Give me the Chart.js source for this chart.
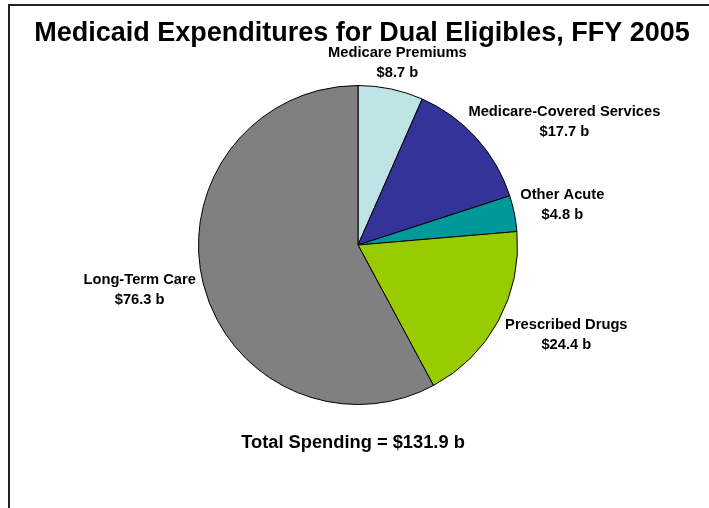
<!DOCTYPE html>
<html>
<head>
<meta charset="utf-8">
<script src="https://cdn.jsdelivr.net/npm/chart.js@4"></script>
<style>
  body { margin: 0; background: #fff; }
  #wrap { position: relative; width: 709px; height: 508px; }
  #frame { position: absolute; left: 8px; top: 4px; right: 0; bottom: 0;
           border-top: 2px solid #222; border-left: 2px solid #222; }
  canvas { position: absolute; left: 0; top: 0; }
</style>
</head>
<body>
<div id="wrap">
  <div id="frame"></div>
  <canvas id="pie" width="709" height="508"></canvas>
</div>
<script>
// values in billions of dollars
var categories = ['Medicare Premiums', 'Medicare-Covered Services', 'Other Acute', 'Prescribed Drugs', 'Long-Term Care']
var spending = [8.7, 17.7, 4.8, 24.4, 76.3]
var totalSpending = 131.9
var sliceColors = ['#bde3e4', '#333399', '#009999', '#99cc00', '#808080']

// where each label block sits, relative to pie center in units of radius
var labelSpots = [[0.247, -1.141], [1.294, -0.769], [1.281, -0.25], [1.306, 0.5625], [-1.369, 0.281]]

var textPlugin = {
  id: 'pieText',
  afterDraw: function(chart){
    var ctx = chart.ctx
    var arc = chart.getDatasetMeta(0).data[0]
    var cx = arc.x, cy = arc.y, r = arc.outerRadius
    ctx.save()
    ctx.fillStyle = '#000'
    ctx.textAlign = 'center'
    ctx.textBaseline = 'middle'

    ctx.font = 'bold 27px "Liberation Sans", Arial, sans-serif'
    ctx.fillText('Medicaid Expenditures for Dual Eligibles, FFY 2005', 362, 34)

    ctx.font = 'bold 14.7px "Liberation Sans", Arial, sans-serif'
    for (var i = 0; i < categories.length; i++) {
      var x = cx + labelSpots[i][0] * r
      var y = cy + labelSpots[i][1] * r
      ctx.fillText(categories[i], x, y - 10)
      ctx.fillText('$' + spending[i].toFixed(1) + ' b', x, y + 10)
    }

    ctx.font = 'bold 18.3px "Liberation Sans", Arial, sans-serif'
    ctx.fillText('Total Spending = $' + totalSpending.toFixed(1) + ' b', cx - 5, cy + 1.244 * r)
    ctx.restore()
  }
}

var food = document.getElementById('pie').getContext('2d')

var pieChart = new Chart(food, {
  type: 'pie',
  data: {
    labels: categories,
    datasets: [{
      data: spending,
      backgroundColor: sliceColors,
      borderColor: '#000',
      borderWidth: 1
    }]
  },
  options: {
    responsive: false,
    animation: false,
    layout: { padding: { left: 198, right: 191, top: 85, bottom: 103 } },
    plugins: {
      legend: { display: false },
      tooltip: { enabled: false },
      title: { display: false }
    }
  },
  plugins: [textPlugin]
})
</script>
</body>
</html>
